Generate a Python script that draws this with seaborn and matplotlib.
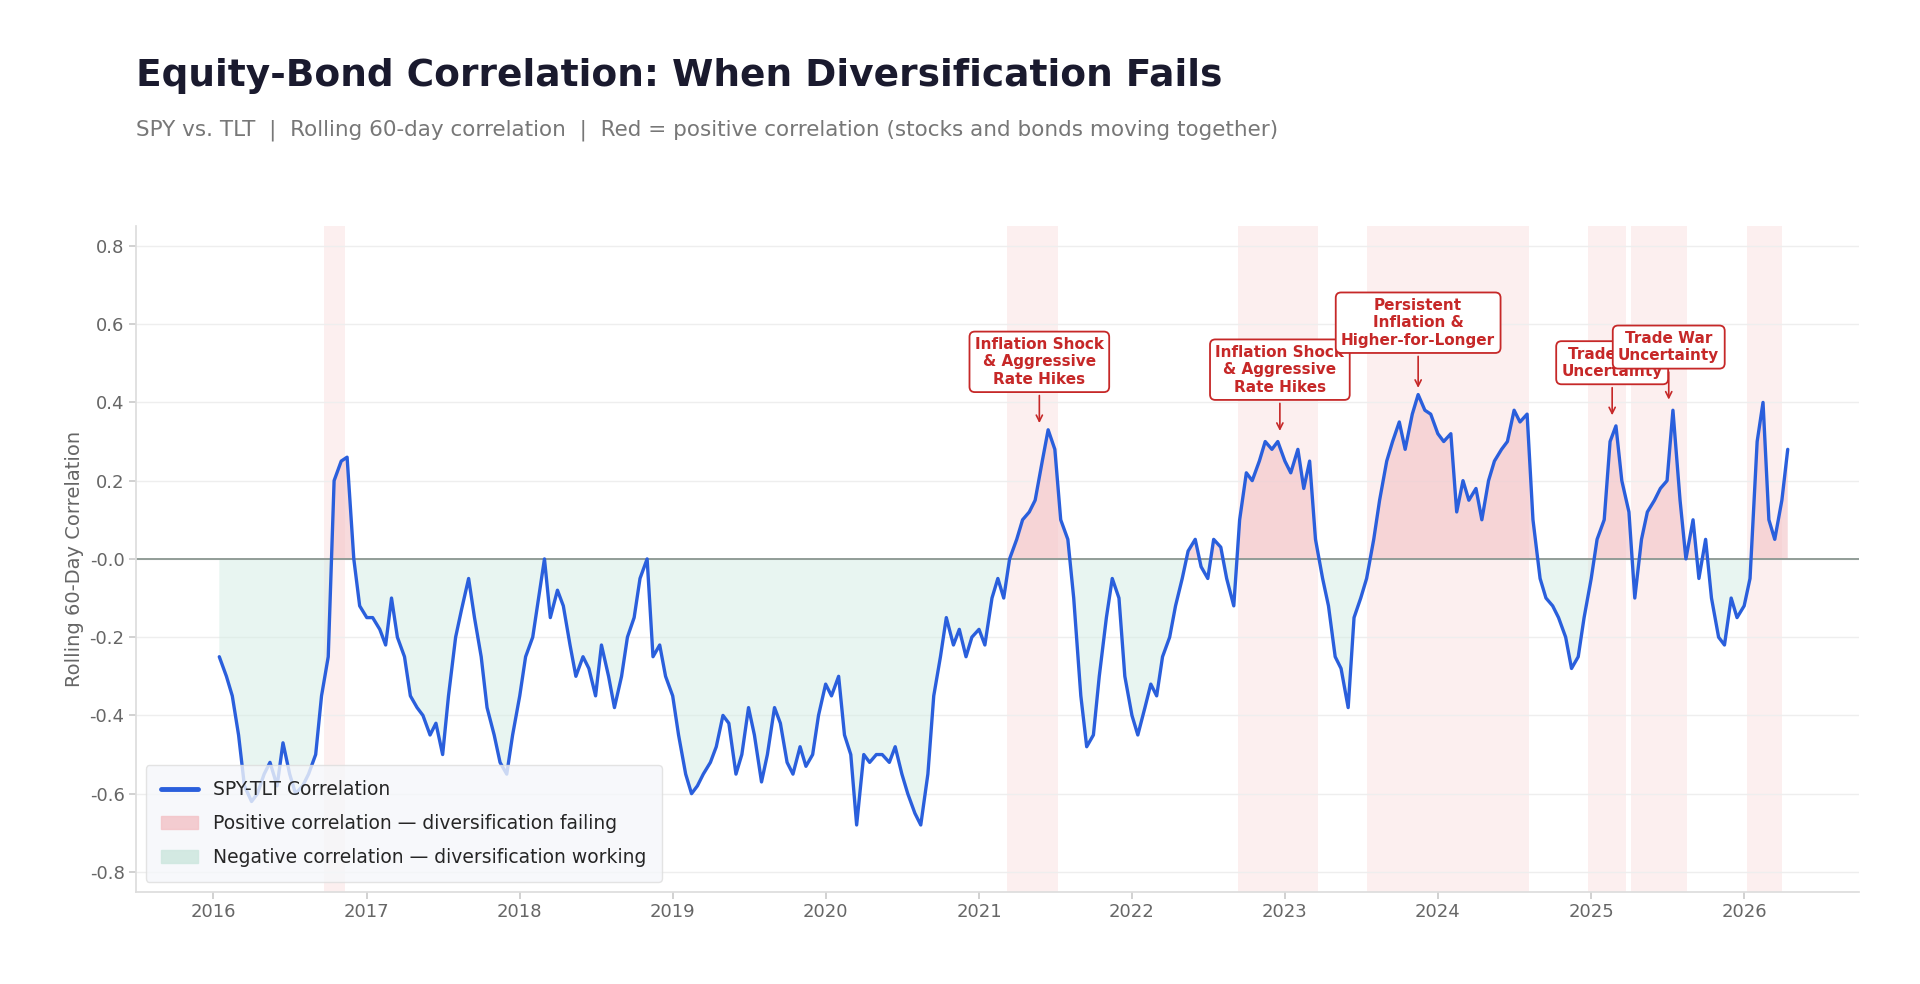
import pandas as pd
import numpy as np
import matplotlib
matplotlib.use('Agg')
import matplotlib.pyplot as plt
import matplotlib.dates as mdates
from matplotlib.patches import Patch
from matplotlib.lines import Line2D
import seaborn as sns

# semi-monthly readings of the rolling 60-day SPY/TLT correlation
corr_2016 = [-0.25, -0.30, -0.35, -0.45, -0.58, -0.62, -0.60, -0.55, -0.52, -0.58, -0.47, -0.55,
             -0.60, -0.58, -0.55, -0.50, -0.35, -0.25, 0.20, 0.25, 0.26, 0.00, -0.12, -0.15]
corr_2017 = [-0.15, -0.18, -0.22, -0.10, -0.20, -0.25, -0.35, -0.38, -0.40, -0.45, -0.42, -0.50,
             -0.35, -0.20, -0.13, -0.05, -0.15, -0.25, -0.38, -0.45, -0.52, -0.55, -0.45, -0.35]
corr_2018 = [-0.25, -0.20, -0.10, 0.00, -0.15, -0.08, -0.12, -0.22, -0.30, -0.25, -0.28, -0.35,
             -0.22, -0.30, -0.38, -0.30, -0.20, -0.15, -0.05, 0.00, -0.25, -0.22, -0.30, -0.35]
corr_2019 = [-0.45, -0.55, -0.60, -0.58, -0.55, -0.52, -0.48, -0.40, -0.42, -0.55, -0.50, -0.38,
             -0.45, -0.57, -0.50, -0.38, -0.42, -0.52, -0.55, -0.48, -0.53, -0.50, -0.40, -0.32]
corr_2020 = [-0.35, -0.30, -0.45, -0.50, -0.68, -0.50, -0.52, -0.50, -0.50, -0.52, -0.48, -0.55,
             -0.60, -0.65, -0.68, -0.55, -0.35, -0.25, -0.15, -0.22, -0.18, -0.25, -0.20, -0.18]
corr_2021 = [-0.22, -0.10, -0.05, -0.10, 0.00, 0.05, 0.10, 0.12, 0.15, 0.25, 0.33, 0.28,
             0.10, 0.05, -0.10, -0.35, -0.48, -0.45, -0.30, -0.15, -0.05, -0.10, -0.30, -0.40]
corr_2022 = [-0.45, -0.38, -0.32, -0.35, -0.25, -0.20, -0.12, -0.05, 0.02, 0.05, -0.02, -0.05,
             0.05, 0.03, -0.05, -0.12, 0.10, 0.22, 0.20, 0.25, 0.30, 0.28, 0.30, 0.25]
corr_2023 = [0.22, 0.28, 0.18, 0.25, 0.05, -0.05, -0.12, -0.25, -0.28, -0.38, -0.15, -0.10,
             -0.05, 0.05, 0.15, 0.25, 0.30, 0.35, 0.28, 0.37, 0.42, 0.38, 0.37, 0.32]
corr_2024 = [0.30, 0.32, 0.12, 0.20, 0.15, 0.18, 0.10, 0.20, 0.25, 0.28, 0.30, 0.38,
             0.35, 0.37, 0.10, -0.05, -0.10, -0.12, -0.15, -0.20, -0.28, -0.25, -0.15, -0.05]
corr_2025 = [0.05, 0.10, 0.30, 0.34, 0.20, 0.12, -0.10, 0.05, 0.12, 0.15, 0.18, 0.20,
             0.38, 0.15, 0.00, 0.10, -0.05, 0.05, -0.10, -0.20, -0.22, -0.10, -0.15, -0.12]
corr_2026 = [-0.05, 0.30, 0.40, 0.10, 0.05, 0.15, 0.28]

values = (corr_2016 + corr_2017 + corr_2018 + corr_2019 + corr_2020 + corr_2021
          + corr_2022 + corr_2023 + corr_2024 + corr_2025 + corr_2026)
dates = pd.date_range('2016-01-08', periods=len(values), freq='SMS')
df = pd.DataFrame({'date': dates, 'corr': values})

# periods of positive correlation (start, end)
regimes = [('2016-09-20', '2016-11-10'), ('2021-03-08', '2021-07-08'), ('2022-09-12', '2023-03-20'),
           ('2023-07-16', '2024-08-06'), ('2024-12-24', '2025-03-25'), ('2025-04-05', '2025-08-18'),
           ('2026-01-08', '2026-04-01')]

# annotations: label, peak date, peak value, label height
notes = [('Inflation Shock\n& Aggressive\nRate Hikes', '2021-05-25', 0.34, 0.44),
         ('Inflation Shock\n& Aggressive\nRate Hikes', '2022-12-20', 0.32, 0.42),
         ('Persistent\nInflation &\nHigher-for-Longer', '2023-11-15', 0.43, 0.54),
         ('Trade War\nUncertainty', '2025-02-20', 0.36, 0.46),
         ('Trade War\nUncertainty', '2025-07-05', 0.40, 0.50)]

sns.set_theme(style='white')
plt.rcParams['font.family'] = ['DejaVu Sans']

fig = plt.figure(figsize=(19.2, 9.84), dpi=100)
ax = fig.add_axes([0.071, 0.094, 0.897, 0.676])

for a, b in regimes:
    ax.axvspan(pd.Timestamp(a), pd.Timestamp(b), color='#f9dcdc', alpha=0.45, lw=0, zorder=0)

y = df['corr'].to_numpy()
ax.fill_between(df['date'], y, 0, where=y >= 0, interpolate=True, color='#f3c2c6', alpha=0.6, lw=0, zorder=1)
ax.fill_between(df['date'], y, 0, where=y <= 0, interpolate=True, color='#d3ede4', alpha=0.5, lw=0, zorder=1)
sns.lineplot(data=df, x='date', y='corr', ax=ax, color='#2a5fdc', lw=2.4, zorder=3)
ax.axhline(0, color='#8a9690', lw=1.3, zorder=2)

for label, d, peak, ty in notes:
    ax.annotate(label, xy=(pd.Timestamp(d), peak), xytext=(pd.Timestamp(d), ty),
                ha='center', va='bottom', fontsize=11, fontweight='bold', color='#c62828',
                bbox=dict(boxstyle='round,pad=0.35', fc='white', ec='#c62828', lw=1.3),
                arrowprops=dict(arrowstyle='->', color='#c62828', lw=1.2), zorder=5)

ax.set_xlim(pd.Timestamp('2015-07-01'), pd.Timestamp('2026-10-01'))
ax.set_ylim(-0.85, 0.85)
ax.set_yticks(np.arange(-0.8, 0.81, 0.2))
ax.set_yticklabels([f'{t:.1f}' for t in np.arange(-0.8, 0.81, 0.2)])
ax.xaxis.set_major_locator(mdates.YearLocator())
ax.xaxis.set_major_formatter(mdates.DateFormatter('%Y'))
ax.grid(axis='y', color='#eeeeee', lw=1)
ax.tick_params(axis='both', colors='#666666', labelsize=13, length=5, left=True, bottom=True)
ax.tick_params(axis='both', color='#cccccc')
for s in ['top', 'right']:
    ax.spines[s].set_visible(False)
for s in ['left', 'bottom']:
    ax.spines[s].set_color('#dddddd')
ax.set_xlabel('')
ax.set_ylabel('Rolling 60-Day Correlation', fontsize=14, color='#666666')

handles = [Line2D([0], [0], color='#2a5fdc', lw=3.5),
           Patch(color='#f3c2c6', alpha=0.8),
           Patch(color='#cfe8e0', alpha=0.9)]
leg = ax.legend(handles, ['SPY-TLT Correlation', 'Positive correlation \u2014 diversification failing',
                          'Negative correlation \u2014 diversification working'],
                loc='lower left', fontsize=13.5, frameon=True, facecolor='#f5f7fa', edgecolor='#dddddd',
                borderpad=0.8, labelspacing=0.8)

fig.text(0.071, 0.923, 'Equity-Bond Correlation: When Diversification Fails', fontsize=27,
         fontweight='bold', color='#1a1a2e', va='center')
fig.text(0.071, 0.868, 'SPY vs. TLT  |  Rolling 60-day correlation  |  Red = positive correlation '
         '(stocks and bonds moving together)', fontsize=15.5, color='#777777', va='center')

fig.savefig('out.png', dpi=100, facecolor='white')
